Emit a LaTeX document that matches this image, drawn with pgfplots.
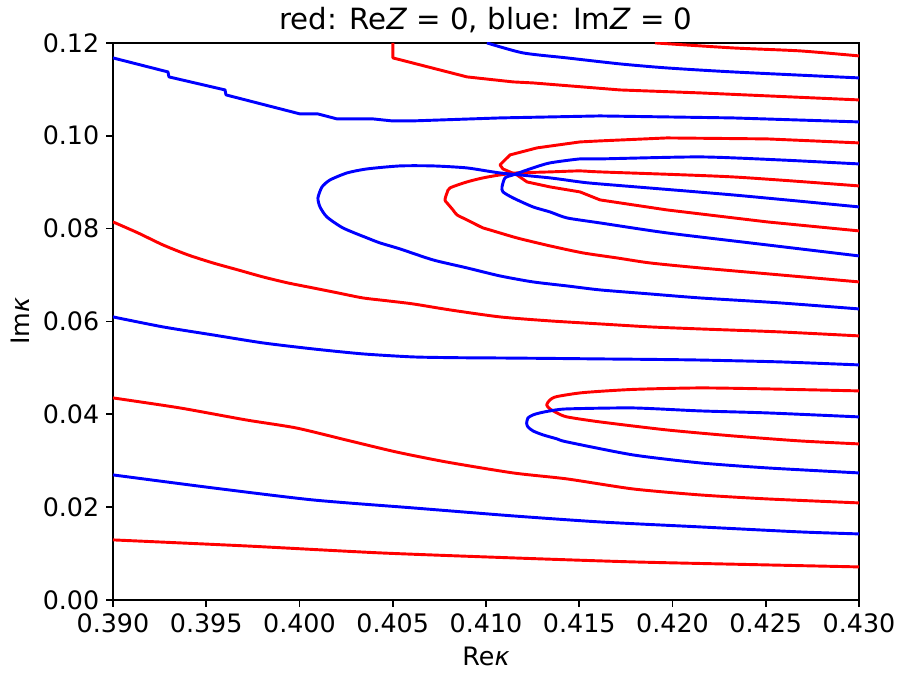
\documentclass[border=0pt]{standalone}
\usepackage{fontspec}
\setmainfont{DejaVu Sans}
\usepackage{pgfplots}
\pgfplotsset{compat=1.18}
\begin{document}
\begin{tikzpicture}
\begin{axis}[
  scale only axis, width=382.4pt, height=285.5pt,
  xmin=0.39, xmax=0.43, ymin=0, ymax=0.12,
  scaled ticks=false,
  xtick={0.39,0.395,0.40,0.405,0.41,0.415,0.42,0.425,0.43},
  xticklabels={0.390,0.395,0.400,0.405,0.410,0.415,0.420,0.425,0.430},
  ytick={0,0.02,0.04,0.06,0.08,0.10,0.12},
  yticklabels={0.00,0.02,0.04,0.06,0.08,0.10,0.12},
  tick align=outside, tick pos=left, major tick length=3.5pt,
  axis line style={line width=0.8pt},
  every tick/.style={black, line width=0.8pt},
  tick label style={font=\fontsize{13}{15}\selectfont},
  label style={font=\fontsize{13}{15}\selectfont},
  every axis title shift=0pt,
  title style={font=\fontsize{15}{18}\selectfont, at={(axis description cs:0.5,1.0235)}, anchor=base, inner sep=0pt},
  xlabel style={at={(axis description cs:0.5,-0.1184)}, anchor=base, inner sep=0pt},
  ylabel style={at={(axis description cs:-0.1247,0.5)}, anchor=center, inner sep=0pt},
  title={red: Re\textit{Z} = 0, blue: Im\textit{Z} = 0},
  xlabel={Re\textit{κ}}, ylabel={Im\textit{κ}},
  every axis plot/.append style={line width=1.5pt, line join=round},
]
% red curves
\addplot[red, smooth, tension=0.4] coordinates {(0.39000,0.01293)(0.39713,0.01163)(0.40432,0.01013)(0.41145,0.00905)(0.41788,0.00819)(0.42507,0.00754)(0.43,0.00711)};
\addplot[red, smooth, tension=0.4] coordinates {(0.39,0.04352)(0.39359,0.04136)(0.39713,0.03878)(0.39981,0.03706)(0.40249,0.03447)(0.40517,0.03189)(0.40786,0.02973)(0.41145,0.02736)(0.41434,0.02607)(0.41788,0.02391)(0.42147,0.02262)(0.42507,0.02176)(0.43,0.02090)};
\addplot[red, smooth, tension=0.4] coordinates {(0.43,0.04503)(0.42507,0.04546)(0.42147,0.04567)(0.41788,0.04535)(0.41520,0.04466)(0.41379,0.04380)(0.41343,0.04309)(0.41325,0.04201)(0.41343,0.04115)(0.41381,0.04029)(0.41434,0.03943)(0.41611,0.03835)(0.41970,0.03662)(0.42324,0.03533)(0.42684,0.03425)(0.43,0.03361)};
\addplot[red, smooth, tension=0.4] coordinates {(0.39,0.08144)(0.39134,0.07907)(0.39268,0.07648)(0.39402,0.07433)(0.39536,0.07260)(0.39670,0.07110)(0.39804,0.06959)(0.39938,0.06829)(0.40072,0.06722)(0.40206,0.06614)(0.40340,0.06506)(0.40475,0.06442)(0.40609,0.06377)(0.40807,0.06248)(0.41075,0.06097)(0.41343,0.06011)(0.41611,0.05946)(0.41879,0.05882)(0.42147,0.05838)(0.42576,0.05774)(0.43,0.05688)};
\addplot[red, smooth, tension=0.4] coordinates {(0.43,0.08919)(0.42324,0.09113)(0.41611,0.09221)(0.41504,0.09243)(0.41343,0.09221)(0.41166,0.09199)(0.41075,0.09156)(0.40984,0.09092)(0.40898,0.09005)(0.40807,0.08876)(0.40791,0.08768)(0.40780,0.08618)(0.40791,0.08553)(0.40823,0.08402)(0.40845,0.08294)(0.40898,0.08187)(0.40984,0.08014)(0.41021,0.07971)(0.41166,0.07799)(0.41343,0.07627)(0.41520,0.07476)(0.41702,0.07368)(0.41879,0.07260)(0.42147,0.07153)(0.42576,0.07002)(0.43,0.06851)};
\addplot[red] coordinates {(0.43,0.09846)(0.42507,0.09932)(0.41970,0.09953)(0.41611,0.09889)(0.41504,0.09867)(0.41273,0.09738)(0.41129,0.09587)(0.41075,0.09372)(0.41091,0.09285)(0.41166,0.09156)(0.41220,0.09005)(0.41343,0.08898)(0.41504,0.08790)(0.41611,0.08618)(0.41970,0.08402)(0.42507,0.08144)(0.43,0.07950)};
\addplot[red] coordinates {(0.40501,0.12)(0.40501,0.11677)(0.40898,0.11268)(0.41145,0.11160)(0.41252,0.11138)(0.41718,0.10987)(0.42147,0.10923)(0.43,0.10772)};
\addplot[red, smooth, tension=0.4] coordinates {(0.41906,0.12)(0.42324,0.11892)(0.42684,0.11828)(0.43,0.11720)};
% blue curves
\addplot[blue, smooth, tension=0.4] coordinates {(0.39,0.02693)(0.39536,0.02413)(0.40072,0.02154)(0.40609,0.01982)(0.41145,0.01810)(0.41611,0.01680)(0.42147,0.01573)(0.42684,0.01465)(0.43,0.01422)};
\addplot[blue, smooth, tension=0.4] coordinates {(0.43,0.03943)(0.42507,0.04029)(0.42147,0.04072)(0.41788,0.04136)(0.41434,0.04115)(0.41343,0.04072)(0.41289,0.04029)(0.41252,0.03986)(0.41225,0.03921)(0.41218,0.03807)(0.41225,0.03727)(0.41252,0.03641)(0.41306,0.03555)(0.41381,0.03469)(0.41434,0.03404)(0.41788,0.03124)(0.42147,0.02952)(0.42507,0.02844)(0.43,0.02736)};
\addplot[blue, smooth, tension=0.4] coordinates {(0.39,0.06097)(0.39268,0.05882)(0.39536,0.05709)(0.39804,0.05537)(0.40072,0.05408)(0.40340,0.05300)(0.40609,0.05235)(0.40850,0.05218)(0.41075,0.05212)(0.41343,0.05203)(0.41611,0.05192)(0.41879,0.05182)(0.42147,0.05168)(0.42576,0.05128)(0.43,0.05063)};
\addplot[blue, smooth, tension=0.4] coordinates {(0.43,0.08467)(0.42324,0.08725)(0.41611,0.08962)(0.41504,0.09005)(0.41343,0.09092)(0.41075,0.09199)(0.40898,0.09307)(0.40716,0.09350)(0.40539,0.09350)(0.40362,0.09285)(0.40255,0.09199)(0.40164,0.09048)(0.40121,0.08898)(0.40099,0.08661)(0.40110,0.08467)(0.40147,0.08251)(0.40233,0.08014)(0.40362,0.07799)(0.40432,0.07691)(0.40539,0.07562)(0.40716,0.07325)(0.40898,0.07153)(0.41075,0.06980)(0.41252,0.06851)(0.41434,0.06765)(0.41611,0.06679)(0.41879,0.06592)(0.42147,0.06506)(0.42576,0.06399)(0.43,0.06269)};
\addplot[blue, smooth, tension=0.4] coordinates {(0.43,0.09393)(0.42576,0.09479)(0.42147,0.09544)(0.41611,0.09501)(0.41504,0.09501)(0.41343,0.09415)(0.41252,0.09307)(0.41145,0.09156)(0.41102,0.09092)(0.41086,0.08898)(0.41091,0.08790)(0.41145,0.08661)(0.41252,0.08467)(0.41343,0.08359)(0.41434,0.08230)(0.41611,0.08122)(0.41970,0.07907)(0.42507,0.07648)(0.43,0.07411)};
\addplot[blue] coordinates {(0.39,0.11677)(0.39295,0.11375)(0.39300,0.11268)(0.39601,0.10987)(0.39606,0.10880)(0.40003,0.10470)(0.40099,0.10470)(0.40201,0.10363)(0.40394,0.10363)(0.40496,0.10320)(0.40609,0.10320)(0.41075,0.10384)(0.41611,0.10427)(0.42324,0.10384)(0.43,0.10298)};
\addplot[blue, smooth, tension=0.4] coordinates {(0.41005,0.12)(0.41198,0.11785)(0.41434,0.11677)(0.41718,0.11548)(0.41970,0.11461)(0.42324,0.11375)(0.43,0.11246)};
\end{axis}
\pgfresetboundingbox
\path[use as bounding box] (current axis.south west) ++(-57.9pt,-37.4pt) rectangle ([xshift=20.5pt,yshift=22pt]current axis.north east);
\end{tikzpicture}
\end{document}
